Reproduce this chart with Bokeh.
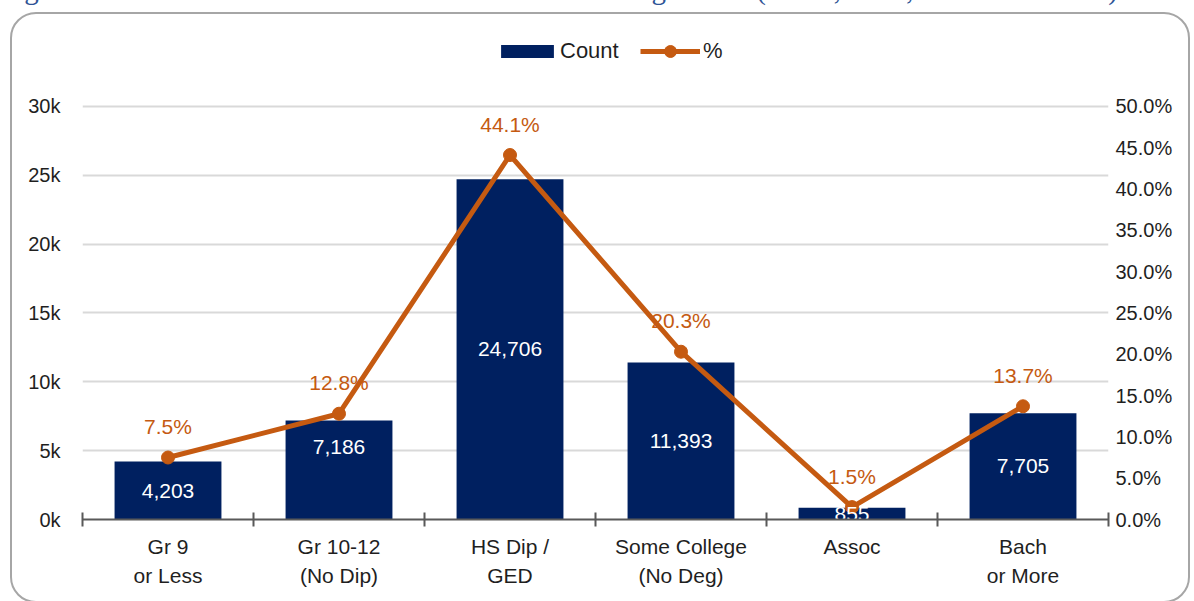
from bokeh.plotting import figure
from bokeh.layouts import column
from bokeh.models import (Range1d, LinearAxis, FixedTicker, Legend, LegendItem,
                          ColumnDataSource, Div)
from bokeh.core.properties import value
from bokeh.embed import file_html
from bokeh.resources import INLINE

# ---- data -----------------------------------------------------------------
categories = ["Gr 9\nor Less", "Gr 10-12\n(No Dip)", "HS Dip /\nGED",
              "Some College\n(No Deg)", "Assoc", "Bach\nor More"]
counts = [4203, 7186, 24706, 11393, 855, 7705]
shares = [7.5, 12.8, 44.1, 20.3, 1.5, 13.7]

count_ticks = [0, 5000, 10000, 15000, 20000, 25000, 30000]
count_tick_labels = ["0k", "5k", "10k", "15k", "20k", "25k", "30k"]
share_ticks = [0, 5, 10, 15, 20, 25, 30, 35, 40, 45, 50]
share_tick_labels = ["0.0%", "5.0%", "10.0%", "15.0%", "20.0%", "25.0%",
                     "30.0%", "35.0%", "40.0%", "45.0%", "50.0%"]

title_text = ("Figure 3: Educational Attainment of Disconnected Young Adults "
              "(16-24, 2022, 2018-2022 ACS)")

# ---- styling ----------------------------------------------------------------
NAVY = "#002060"
ORANGE = "#C55A11"
TEXT = "#1f1f1f"
FONT = "Liberation Sans"

W, H = 1180, 591                                   # inside the rounded panel
LEFT, RIGHT, TOP, BOTTOM = 70, 84, 16, 86          # frame borders in px
COUNT_MAX = 35500                                  # headroom above 30k for the legend
SHARE_MAX = COUNT_MAX / 600                        # 30k <-> 50 %

n = len(categories)
xs = [i + 0.5 for i in range(n)]

src = ColumnDataSource(dict(
    x=xs,
    count=counts,
    half=[c / 2 for c in counts],
    share=shares,
    count_txt=[f"{c:,}" for c in counts],
    share_txt=[f"{s:.1f}%" for s in shares],
    nudge=[0, -23, 0, 0, 0, 0],
))

p = figure(width=W, height=H, output_backend="svg", toolbar_location=None,
           x_range=Range1d(0, n), y_range=Range1d(0, COUNT_MAX),
           min_border_left=LEFT, min_border_right=RIGHT,
           min_border_top=TOP, min_border_bottom=BOTTOM,
           background_fill_color="white", border_fill_alpha=0)
p.outline_line_color = None
p.margin = (0, 0, 0, 10)
p.styles = {"border": "2px solid #a6a6a6", "border-radius": "26px"}
p.extra_y_ranges = {"share": Range1d(0, SHARE_MAX)}

# ---- axes -------------------------------------------------------------------
xa = p.xaxis[0]
xa.ticker = FixedTicker(ticks=xs, minor_ticks=list(range(n + 1)))
xa.major_label_overrides = {x: c for x, c in zip(xs, categories)}
xa.major_tick_line_color = None
xa.major_tick_in = 0
xa.major_tick_out = 0
xa.minor_tick_in = 7
xa.minor_tick_out = 7
xa.minor_tick_line_color = "#595959"
xa.minor_tick_line_width = 2
xa.axis_line_color = "#595959"
xa.axis_line_width = 2
xa.major_label_text_font = FONT
xa.major_label_text_font_size = "21px"
xa.major_label_text_color = TEXT
xa.major_label_text_line_height = 1.3
xa.major_label_standoff = 8

ya = p.yaxis[0]
ya.ticker = FixedTicker(ticks=count_ticks)
ya.major_label_overrides = {t: l for t, l in zip(count_ticks, count_tick_labels)}
ya.axis_line_color = None
ya.major_tick_line_color = None
ya.major_tick_out = 0
ya.major_tick_in = 0
ya.minor_tick_line_color = None
ya.major_label_text_font = FONT
ya.major_label_text_font_size = "20px"
ya.major_label_text_color = TEXT
ya.major_label_standoff = 22

ra = LinearAxis(y_range_name="share", ticker=FixedTicker(ticks=share_ticks))
ra.major_label_overrides = {t: l for t, l in zip(share_ticks, share_tick_labels)}
ra.axis_line_color = None
ra.major_tick_line_color = None
ra.major_tick_out = 0
ra.major_tick_in = 0
ra.minor_tick_line_color = None
ra.major_label_text_font = FONT
ra.major_label_text_font_size = "20px"
ra.major_label_text_color = TEXT
ra.major_label_standoff = 7
p.add_layout(ra, "right")

p.xgrid.grid_line_color = None
p.ygrid.grid_line_color = "#d9d9d9"
p.ygrid.grid_line_width = 2

# ---- marks ------------------------------------------------------------------
bars = p.vbar(x="x", top="count", width=0.625, source=src,
              fill_color=NAVY, line_color=None)
line = p.line(x="x", y="share", source=src, y_range_name="share",
              line_color=ORANGE, line_width=5)
dots = p.scatter(x="x", y="share", source=src, y_range_name="share",
                 size=13, fill_color=ORANGE, line_color=ORANGE)

p.text(x="x", y="half", text="count_txt", source=src, y_offset="nudge",
       text_align="center", text_baseline="middle", text_color="white",
       text_font=value(FONT), text_font_size="21px")
p.text(x="x", y="share", text="share_txt", source=src, y_range_name="share",
       y_offset=-31, text_align="center", text_baseline="middle",
       text_color=ORANGE, text_font=value(FONT), text_font_size="21px")

# ---- legend (two boxes so the bar swatch and the line marker size apart) ----
legend_style = dict(orientation="horizontal", padding=0, margin=0,
                    border_line_color=None, background_fill_alpha=0,
                    label_text_font=FONT, label_text_font_size="22px",
                    label_text_color=TEXT)
p.add_layout(Legend(items=[LegendItem(label="Count", renderers=[bars])],
                    location=(412, 455), glyph_width=66, glyph_height=16,
                    label_standoff=0, **legend_style))
p.add_layout(Legend(items=[LegendItem(label="%", renderers=[line, dots])],
                    location=(558, 453), glyph_width=60, glyph_height=30,
                    label_standoff=3, **legend_style))

# ---- caption strip above the panel -----------------------------------------
caption = Div(
    text=('<div style="position:relative; top:-26px; white-space:nowrap; '
          "font-family:'Liberation Serif'; font-size:29px; line-height:30px; "
          f'color:#2F5496;">{title_text}</div>'),
    width=1194, height=12, margin=0, styles={"overflow": "hidden"})

layout = column(caption, p, spacing=0)

open("out.html", "w").write(file_html(layout, INLINE))
